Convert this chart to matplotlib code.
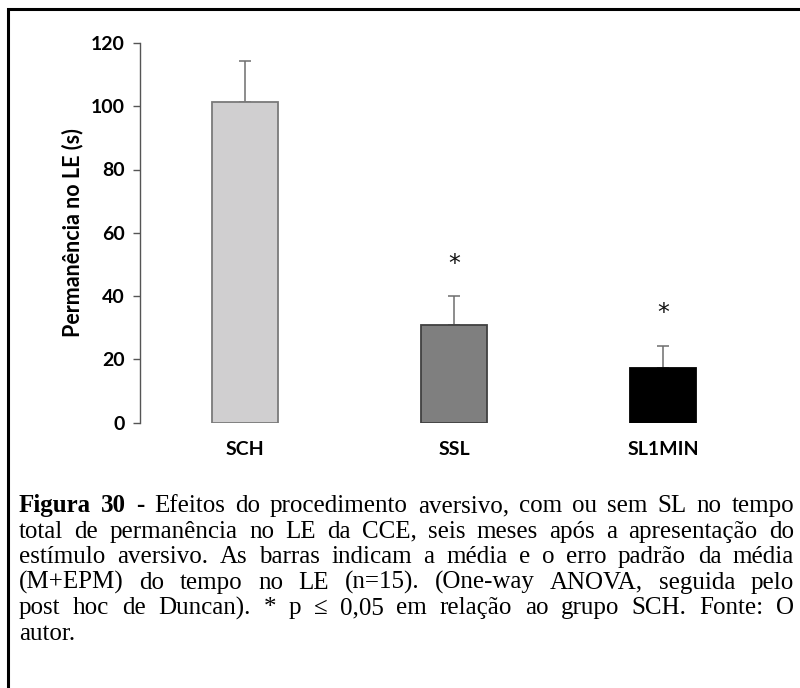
import matplotlib
matplotlib.use("Agg")
import matplotlib.pyplot as plt
from matplotlib.patches import Rectangle
import numpy as np

# dados
grupos = ['SCH', 'SSL', 'SL1MIN']
medias = [101.3, 30.9, 17.1]
epm = [12.9, 9.0, 7.1]
signif = ['', '*', '*']
cores = ['#d0cfd0', '#7f7f7f', '#000000']
bordas = ['#7a7a7a', '#404040', '#000000']
yticks = [0, 20, 40, 60, 80, 100, 120]

legenda = [
    [('Figura 30 -', 'bold'), ('Efeitos do procedimento aversivo, com ou sem SL no tempo', 'normal')],
    [('total de permanência no LE da CCE, seis meses após a apresentação do', 'normal')],
    [('estímulo aversivo. As barras indicam a média e o erro padrão da média', 'normal')],
    [('(M+EPM) do tempo no LE (n=15). (One-way ANOVA, seguida pelo', 'normal')],
    [('post hoc de Duncan). * p ≤ 0,05 em relação ao grupo SCH. Fonte: O', 'normal')],
    [('autor.', 'normal')],
]

W, H = 800, 688
fig = plt.figure(figsize=(W / 100, H / 100), dpi=100)
ax = fig.add_axes([140 / W, 1 - 422.5 / H, (768 - 140) / W, (422.5 - 43) / H])

x = np.arange(len(grupos))
ax.bar(x, medias, width=0.316, color=cores, edgecolor=bordas, linewidth=1.3, zorder=2)
ax.errorbar(x, medias, yerr=[np.zeros(len(epm)), epm], fmt='none', ecolor='#6e6e6e',
            elinewidth=1.1, capsize=4.5, capthick=1.1, zorder=1)
for xi, m, e, s in zip(x, medias, epm, signif):
    if s:
        ax.text(xi, m + e + 6.5, s, ha='center', va='bottom', fontsize=17,
                family='DejaVu Sans', color='#111111')

ax.set_xlim(-0.5, 2.5)
ax.set_ylim(0, 120)
ax.set_yticks(yticks)
ax.set_yticklabels([str(t) for t in yticks], fontsize=14, fontweight='bold', family='Lato')
ax.set_xticks(x)
ax.set_xticklabels(grupos, fontsize=14, fontweight='bold', family='Lato')
ax.tick_params(axis='x', length=0, pad=13)
ax.tick_params(axis='y', length=5, width=1, color='#555555', pad=6, direction='out')
for side in ['top', 'right', 'bottom']:
    ax.spines[side].set_visible(False)
ax.spines['left'].set_color('#555555')
ax.spines['left'].set_linewidth(1)
ax.set_ylabel('Permanência no LE (s)', fontsize=15.5, fontweight='bold', family='Lato', labelpad=5)

# moldura
fig.patches.append(Rectangle((8 / W, -0.1), 1.2, 1 - 9 / H + 0.1, transform=fig.transFigure,
                             fill=False, edgecolor='black', linewidth=2.2))

# legenda justificada
x0, x1 = 19, 794
base0, passo = 512, 25.6
fonte = 18
renderer = fig.canvas.get_renderer()
for i, linha in enumerate(legenda):
    palavras = []
    for trecho, peso in linha:
        for p in trecho.split():
            palavras.append((p, peso))
    y = 1 - (base0 + i * passo) / H
    objs = []
    for p, peso in palavras:
        t = fig.text(0, y, p, fontsize=fonte, family='Liberation Serif', fontweight=peso,
                     va='baseline', ha='left')
        objs.append(t)
    larg = [t.get_window_extent(renderer).width for t in objs]
    if i == len(legenda) - 1:
        espaco = fonte * 100 / 72 * 0.25
    else:
        espaco = (x1 - x0 - sum(larg)) / (len(objs) - 1)
    pos = x0
    for t, w in zip(objs, larg):
        t.set_x(pos / W)
        pos += w + espaco

fig.savefig('out.png', dpi=100)
